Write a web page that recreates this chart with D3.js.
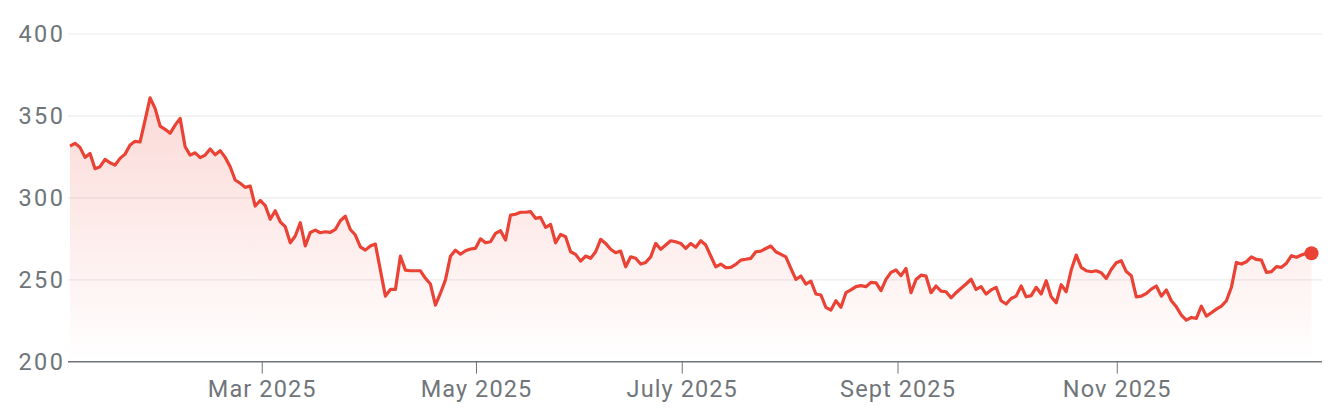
<!DOCTYPE html>
<html>
<head>
<meta charset="utf-8">
<script src="https://cdn.jsdelivr.net/npm/d3@7"></script>
<style>
    html, body { margin: 0; padding: 0; background: #fff; }
    svg { display: block; }
    .ax-label { font-family: Roboto, "Noto Sans", sans-serif; fill: #70757a; }
</style>
</head>
<body>
<svg id="chart" width="1336" height="408"></svg>
<script>
// trading-day index of each reading and the closing price
const days = [
    0, 1, 2, 3, 4, 5, 6, 7, 8, 9, 10, 11, 12, 13, 14, 15, 16, 17, 18, 19,
    20, 21, 22, 23, 24, 25, 26, 27, 28, 29, 30, 31, 32, 33, 34, 35, 36, 37, 38, 39,
    40, 41, 42, 43, 44, 45, 46, 47, 48, 49, 50, 51, 52, 53, 54, 55, 56, 57, 58, 59,
    60, 61, 63, 64, 65, 66, 67, 68, 69, 70, 71, 72, 73, 74, 75, 76, 77, 78, 79,
    80, 81, 82, 83, 84, 85, 86, 87, 88, 89, 90, 91, 92, 93, 94, 95, 96, 97, 98, 99,
    100, 101, 102, 103, 104, 105, 106, 107, 108, 109, 110, 111, 112, 113, 114, 115, 116, 117, 118, 119,
    120, 121, 122, 123, 124, 125, 126, 127, 128, 129, 130, 131, 132, 133, 134, 135, 136, 137, 138, 139,
    140, 141, 143, 144, 145, 146, 147, 148, 149, 150, 151, 152, 153, 154, 155, 156, 157, 158, 159,
    160, 161, 162, 163, 164, 165, 166, 167, 168, 169, 170, 171, 172, 173, 174, 175, 176, 177, 178, 179,
    180, 181, 182, 183, 184, 185, 186, 187, 188, 189, 190, 191, 192, 193, 194, 195, 196, 197, 198, 199,
    200, 201, 202, 203, 204, 205, 206, 207, 208, 209, 210, 211, 212, 213, 214, 215, 216, 217, 218, 219,
    220, 221, 222, 223, 224, 225, 226, 227, 228, 229, 230, 231, 232, 233, 234, 235, 236, 237, 238, 239,
    240, 241, 242, 243, 244, 245, 246, 247, 248
];
const prices = [
    331.5, 333.3, 330.8, 324.7, 327.1, 317.8, 319.0, 323.5, 321.4, 320.0,
    324.1, 326.7, 332.2, 334.5, 334.1, 347.5, 361.0, 354.6, 343.8, 341.8,
    339.4, 344.4, 348.5, 331.2, 326.1, 327.5, 324.5, 326.1, 329.8, 326.3,
    328.8, 324.7, 319.0, 310.9, 308.9, 306.4, 307.2, 295.0, 298.4, 295.3,
    286.9, 292.1, 285.4, 282.4, 272.6, 276.7, 284.8, 270.7, 278.9, 280.3,
    278.7, 279.3, 278.9, 280.7, 286.0, 288.8, 280.7, 277.3, 270.1, 268.1,
    270.6, 271.8, 240.0, 244.1, 244.1, 264.4, 255.9, 255.5, 255.5, 255.5,
    250.9, 247.4, 234.6, 241.8, 249.9, 264.4, 268.1, 265.6, 267.7,
    268.8, 269.2, 275.0, 272.6, 273.2, 278.3, 279.9, 274.3, 289.5, 290.0,
    291.2, 291.2, 291.6, 287.5, 288.1, 282.0, 283.8, 272.6, 277.7, 276.3,
    267.1, 265.5, 261.4, 264.5, 263.1, 267.1, 274.7, 272.2, 268.6, 266.5,
    267.5, 257.9, 264.0, 263.1, 259.6, 260.6, 264.0, 272.2, 268.6, 271.2,
    273.8, 273.2, 272.2, 269.1, 272.2, 269.8, 273.8, 271.2, 264.5, 257.9,
    259.6, 257.4, 257.6, 259.4, 262.0, 262.5, 263.1, 267.1, 267.5, 269.1,
    270.6, 267.1, 264.0, 256.9, 250.2, 252.3, 247.4, 249.2, 241.3, 240.7,
    233.2, 231.5, 237.2, 233.2, 242.1, 243.8, 245.8, 246.4, 245.8,
    248.4, 248.2, 243.4, 250.2, 254.5, 256.0, 252.5, 256.9, 242.1, 250.2,
    252.8, 252.2, 242.1, 246.2, 243.1, 242.7, 239.0, 242.1, 244.8, 247.4,
    250.3, 244.1, 245.8, 241.3, 243.8, 245.4, 237.2, 235.2, 238.6, 240.0,
    246.2, 239.6, 240.3, 245.4, 241.3, 249.4, 239.6, 236.0, 247.0, 242.7,
    255.9, 265.1, 257.6, 255.5, 254.9, 255.5, 254.3, 250.8, 256.3, 260.4,
    261.6, 255.0, 252.5, 239.6, 240.0, 241.6, 244.3, 246.2, 240.0, 243.8,
    237.2, 233.5, 228.5, 225.4, 227.0, 226.4, 233.9, 227.8, 229.9, 232.1,
    233.9, 237.2, 245.4, 260.6, 259.6, 261.0, 264.0, 262.4, 262.0, 254.5,
    255.0, 258.0, 257.6, 260.1, 264.7, 263.7, 265.1, 266.2, 266.2
];
const yTicks = [200, 250, 300, 350, 400];
const monthLabels = ['Mar 2025', 'May 2025', 'July 2025', 'Sept 2025', 'Nov 2025'];
const monthAt = [38.4, 81.2, 122.3, 165.4, 209.2]; // month boundaries, in trading days

const data = days.map((d, i) => ({ day: d, price: prices[i] }));

const svg = d3.select('#chart');
const red = '#ea4335';

const x = d3.scaleLinear()
    .domain([0, 248])
    .range([70, 1311.5]);
const y = d3.scaleLinear()
    .domain([200, 400])
    .range([361.7, 34]);

const gridLeft = 68;
const gridRight = 1322;

//gradient under the line
const defs = svg.append('defs');
const grad = defs.append('linearGradient')
    .attr('id', 'fade')
    .attr('gradientUnits', 'userSpaceOnUse')
    .attr('x1', 0).attr('x2', 0)
    .attr('y1', y(d3.max(prices)))
    .attr('y2', y(200));
grad.append('stop').attr('offset', '0%').attr('stop-color', red).attr('stop-opacity', 0.2);
grad.append('stop').attr('offset', '100%').attr('stop-color', red).attr('stop-opacity', 0);

//grid lines
svg.append('g')
    .selectAll('line')
    .data(yTicks.filter(t => t > 200))
    .join('line')
    .attr('x1', gridLeft)
    .attr('x2', gridRight)
    .attr('y1', d => y(d))
    .attr('y2', d => y(d))
    .attr('stroke', '#ececec')
    .attr('stroke-width', 1.2);

//y labels
svg.append('g')
    .selectAll('text')
    .data(yTicks)
    .join('text')
    .classed('ax-label', true)
    .attr('x', 18.5)
    .attr('y', d => y(d))
    .attr('dy', '0.36em')
    .style('font-size', '23.5px')
    .style('letter-spacing', '2.4px')
    .text(d => d);

//area + line
svg.append('path')
    .datum(data)
    .attr('fill', 'url(#fade)')
    .attr('d', d3.area()
        .x(d => x(d.day))
        .y0(y(200))
        .y1(d => y(d.price)));

//x axis
const xAxis = svg.append('g')
    .attr('transform', `translate(0,${y(200)})`);
xAxis.append('line')
    .attr('x1', gridLeft)
    .attr('x2', gridRight)
    .attr('stroke', '#70757a')
    .attr('stroke-width', 1.6);
const tick = xAxis.selectAll('g.tick')
    .data(monthAt)
    .join('g')
    .classed('tick', true)
    .attr('transform', d => `translate(${x(d)},0)`);
tick.append('line')
    .attr('y1', 0)
    .attr('y2', 12)
    .attr('stroke', '#70757a')
    .attr('stroke-width', 1);
tick.append('text')
    .classed('ax-label', true)
    .attr('text-anchor', 'middle')
    .attr('y', 35)
    .style('font-size', '23.5px')
    .style('letter-spacing', '1.1px')
    .text((d, i) => monthLabels[i]);

svg.append('path')
    .datum(data)
    .attr('fill', 'none')
    .attr('stroke', red)
    .attr('stroke-width', 3.2)
    .attr('stroke-linejoin', 'round')
    .attr('d', d3.line()
        .x(d => x(d.day))
        .y(d => y(d.price)));

//last value dot
const last = data[data.length - 1];
svg.append('circle')
    .attr('cx', x(last.day))
    .attr('cy', y(last.price))
    .attr('r', 7)
    .attr('fill', red);
</script>
</body>
</html>
